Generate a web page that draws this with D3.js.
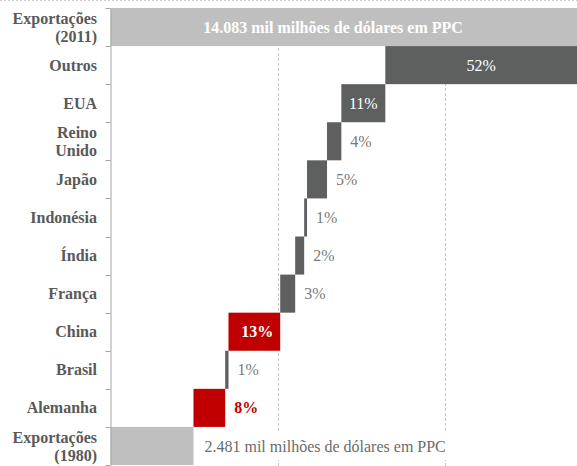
<!DOCTYPE html>
<html>
<head>
<meta charset="utf-8">
<script src="https://cdn.jsdelivr.net/npm/d3@7"></script>
<style>
  html, body { margin: 0; padding: 0; background: #fff; }
  svg { display: block; }
</style>
</head>
<body>
<svg id="chart" width="577" height="466"></svg>
<script>
// ---- data (mil milhões de dólares em PPC) ----
const categories = ["Exportações (2011)", "Outros", "EUA", "Reino Unido", "Japão", "Indonésia",
                    "Índia", "França", "China", "Brasil", "Alemanha", "Exportações (1980)"];
const total1980 = 2481;
const total2011 = 14083;
// increments, from bottom (Alemanha) to top (Outros)
const stepCategories = ["Alemanha", "Brasil", "China", "França", "Índia", "Indonésia",
                        "Japão", "Reino Unido", "EUA", "Outros"];
const stepValues = [948, 99, 1546, 448, 269, 85, 598, 428, 1315, 5866];
const stepLabels = ["8%", "1%", "13%", "3%", "2%", "1%", "5%", "4%", "11%", "52%"];
const totalLabels = ["14.083 mil milhões de dólares em PPC", "2.481 mil milhões de dólares em PPC"];
const gridValues = [5000, 10000];

// ---- layout ----
const svg = d3.select("#chart");
const W = 577, H = 466;
const x = d3.scaleLinear().domain([0, total2011]).range([110.5, 581.5]);
const y = d3.scaleBand().domain(categories).range([8, 465]).padding(0);
const serif = "Times New Roman, Liberation Serif, Tinos, DejaVu Serif, serif";

const red = "#c00000", dark = "#5e5f5f", light = "#bfbfbf";
const highlight = new Set(["China", "Alemanha"]);

// top dotted border
svg.append("line").attr("x1", 0).attr("x2", W).attr("y1", 0.5).attr("y2", 0.5)
  .attr("stroke", "#d0d0d0").attr("stroke-dasharray", "2,2");

// grid lines
svg.append("g").selectAll("line").data(gridValues).join("line")
  .attr("x1", d => Math.round(x(d)) + 0.5).attr("x2", d => Math.round(x(d)) + 0.5)
  .attr("y1", y.range()[0]).attr("y2", H)
  .attr("stroke", "#c8c8c8").attr("stroke-dasharray", "3,2");

// compute step positions
let cum = total1980;
const steps = stepCategories.map((c, i) => {
  const s = { cat: c, start: cum, end: cum + stepValues[i], label: stepLabels[i] };
  cum += stepValues[i];
  return s;
});

// total bars
const totals = [
  { cat: categories[0], v: total2011, label: totalLabels[0] },
  { cat: categories[categories.length - 1], v: total1980, label: totalLabels[1] }
];
svg.append("g").selectAll("rect").data(totals).join("rect")
  .attr("x", x(0)).attr("y", d => y(d.cat))
  .attr("width", d => Math.min(x(d.v), W) - x(0)).attr("height", y.bandwidth())
  .attr("fill", light);

// step bars
svg.append("g").selectAll("rect").data(steps).join("rect")
  .attr("x", d => x(d.start)).attr("y", d => y(d.cat))
  .attr("width", d => x(d.end) - x(d.start)).attr("height", y.bandwidth())
  .attr("fill", d => highlight.has(d.cat) ? red : dark);

// top total label (inside)
svg.append("text")
  .attr("x", 333).attr("y", y(totals[0].cat) + y.bandwidth() / 2)
  .attr("dy", "0.35em").attr("text-anchor", "middle")
  .style("font-family", serif).attr("font-size", 16).attr("font-weight", "bold")
  .attr("fill", "#fff").text(totals[0].label);

// bottom total label with white background
const bx = x(total1980) + 11, by = y(totals[1].cat) + y.bandwidth() / 2;
const bt = svg.append("text")
  .attr("x", bx).attr("y", by).attr("dy", "0.35em")
  .style("font-family", serif).attr("font-size", 16)
  .attr("fill", "#6b6b6b").text(totals[1].label);
const bb = bt.node().getBBox();
svg.insert("rect", "text:last-of-type")
  .attr("x", bb.x - 5).attr("y", by - 14).attr("width", bb.width + 10).attr("height", 28)
  .attr("fill", "#fff");
bt.raise();

// step labels
steps.forEach(s => {
  const x0 = x(s.start), x1 = x(s.end), cy = y(s.cat) + y.bandwidth() / 2;
  const w = x1 - x0;
  const t = svg.append("text").attr("y", cy).attr("dy", "0.35em")
    .style("font-family", serif).attr("font-size", 16).text(s.label);
  if (highlight.has(s.cat) && w > 40) {
    t.attr("x", x1 - 7).attr("text-anchor", "end").attr("fill", "#fff").attr("font-weight", "bold");
  } else if (highlight.has(s.cat)) {
    t.attr("x", x1 + 9).attr("fill", red).attr("font-weight", "bold");
  } else if (w > 40) {
    t.attr("x", (x0 + Math.min(x1, W)) / 2).attr("text-anchor", "middle").attr("fill", "#fff");
  } else {
    t.attr("x", x1 + 9).attr("fill", "#7a7a7a");
  }
});

// y axis
const axis = d3.axisLeft(y).tickSize(0).tickFormat("");
const ag = svg.append("g").attr("transform", `translate(${x(0)},0)`).call(axis);
ag.select(".domain").attr("stroke", "#a6a6a6");
// ticks at band boundaries
const bounds = categories.map(c => y(c)).concat([y.range()[1]]);
svg.append("g").selectAll("line").data(bounds).join("line")
  .attr("x1", x(0) - 5).attr("x2", x(0))
  .attr("y1", d => Math.round(d) + 0.5).attr("y2", d => Math.round(d) + 0.5)
  .attr("stroke", "#a6a6a6");

// category labels
const labelG = svg.append("g");
categories.forEach(c => {
  const cy = y(c) + y.bandwidth() / 2;
  let lines;
  if (c.startsWith("Exportações")) lines = ["Exportações", c.replace("Exportações ", "")];
  else if (c === "Reino Unido") lines = ["Reino", "Unido"];
  else lines = [c];
  const lh = 18;
  const t = labelG.append("text")
    .attr("text-anchor", "end").style("font-family", serif)
    .attr("font-size", 16).attr("font-weight", "bold").attr("fill", "#595959");
  lines.forEach((l, i) => {
    t.append("tspan").attr("x", 97)
      .attr("y", cy + (i - (lines.length - 1) / 2) * lh)
      .attr("dy", "0.35em").text(l);
  });
});
</script>
</body>
</html>
